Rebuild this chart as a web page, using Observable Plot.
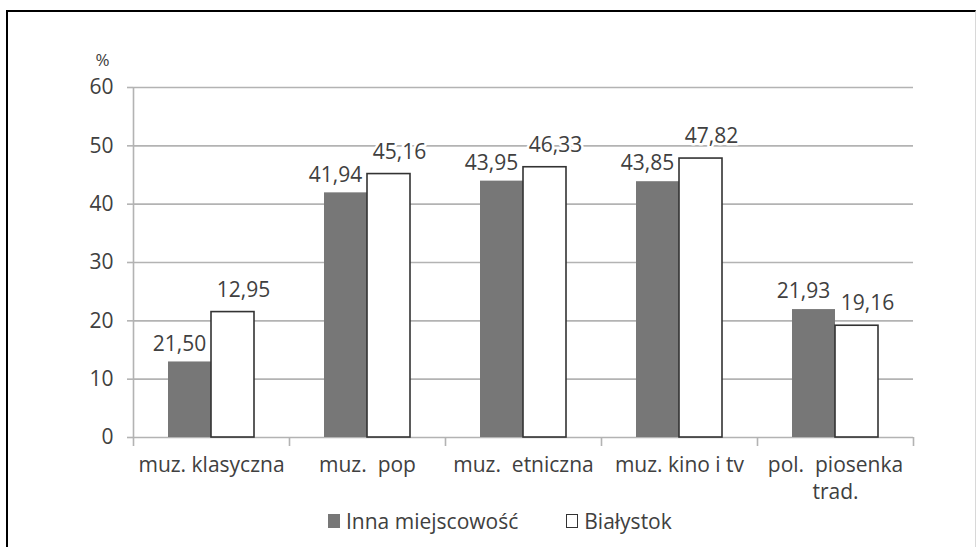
<!DOCTYPE html>
<html><head><meta charset="utf-8">
<script src="https://cdn.jsdelivr.net/npm/d3@7"></script>
<script src="https://cdn.jsdelivr.net/npm/@observablehq/plot@0.6"></script>
<style>
html,body{margin:0;padding:0;background:#fff;}
body{font-family:"Open Sans",sans-serif;color:#404040;width:976px;height:547px;overflow:hidden;position:relative;}
#frame{position:absolute;left:6px;top:10px;width:967px;height:600px;border-left:2.5px solid #000;border-top:2.5px solid #000;border-right:1px solid #d8d8d8;pointer-events:none;}
svg text{white-space:pre;}
#legend{display:flex;align-items:center;margin-top:2px;margin-left:328px;height:30px;font-size:21px;line-height:30px;color:#404040;}
#legend .sw{display:inline-block;width:12px;height:14px;margin-right:6px;box-sizing:border-box;}
#legend .item{display:flex;align-items:center;margin-right:48px;}
</style></head><body>
<div id="chart"></div>
<div id="legend"></div>
<div id="frame"></div>
<script>
const categories = ["muz. klasyczna", "muz.  pop", "muz.  etniczna", "muz. kino i tv", "pol.  piosenka\ntrad."];
const seriesNames = ["Inna miejscowość", "Białystok"];
const innaValues = [12.95, 41.94, 43.95, 43.85, 21.93];
const bialystokValues = [21.50, 45.16, 46.33, 47.82, 19.16];
const innaLabels = ["21,50", "41,94", "43,95", "43,85", "21,93"];
const bialystokLabels = ["12,95", "45,16", "46,33", "47,82", "19,16"];
const yTicks = [0, 10, 20, 30, 40, 50, 60];
const seriesColors = ["#777777", "#ffffff"];

const inna = categories.map((c, i) => ({cat: c, series: seriesNames[0], value: innaValues[i], label: innaLabels[i]}));
const bial = categories.map((c, i) => ({cat: c, series: seriesNames[1], value: bialystokValues[i], label: bialystokLabels[i]}));

const gridColor = "#b3b3b3";
const textColor = "#404040";

const chart = Plot.plot({
  width: 976,
  height: 504,
  marginLeft: 133,
  marginRight: 63,
  marginTop: 87,
  marginBottom: 67,
  style: {fontFamily: "'Open Sans', sans-serif", fontSize: "21px", color: textColor, background: "#fff"},
  x: {domain: categories, padding: 0, label: null},
  y: {domain: [0, 60], label: null},
  marks: [
    Plot.ruleY(yTicks, {stroke: gridColor, strokeWidth: 1.6}),
    Plot.ruleX([categories[0]], {x: d => d, dx: -78, stroke: gridColor, strokeWidth: 1.6}),
    Plot.axisY(yTicks, {tickSize: 6, tickPadding: 14, stroke: gridColor, strokeWidth: 1.6, fill: textColor, label: null, fontSize: 21}),
    Plot.axisX({tickSize: 9, fill: "none", dx: -78, stroke: gridColor, strokeWidth: 1.6, label: null}),
    Plot.axisX([categories[categories.length - 1]], {tickSize: 9, fill: "none", dx: 78, stroke: gridColor, strokeWidth: 1.6, label: null}),
    Plot.axisX({tickSize: 0, tickPadding: 15, fill: textColor, label: null, lineHeight: 1.29, fontSize: 21}),
    Plot.barY(inna, {x: "cat", y: "value", fill: seriesColors[0], insetLeft: 35, insetRight: 78}),
    Plot.barY(bial, {x: "cat", y: "value", fill: seriesColors[1], stroke: "#333", strokeWidth: 1.6, insetLeft: 78, insetRight: 35}),
    Plot.text(inna, {x: "cat", y: "value", text: "label", dx: -32, dy: -18, fill: textColor, fontSize: 21, stroke: "#fff", strokeWidth: 5, paintOrder: "stroke"}),
    Plot.text(bial, {x: "cat", y: "value", text: "label", dx: 32, dy: -22, fill: textColor, fontSize: 21, stroke: "#fff", strokeWidth: 5, paintOrder: "stroke"}),
    Plot.text(["%"], {frameAnchor: "top-left", text: d => d, textAnchor: "middle", lineAnchor: "middle", dx: -31, dy: -27, fill: textColor, fontSize: 17})
  ]
});
document.getElementById("chart").appendChild(chart);

const legend = document.getElementById("legend");
seriesNames.forEach((name, i) => {
  const item = document.createElement("span");
  item.className = "item";
  const sw = document.createElement("span");
  sw.className = "sw";
  sw.style.background = seriesColors[i];
  if (i === 1) sw.style.border = "1.5px solid #333";
  item.appendChild(sw);
  const t = document.createElement("span");
  t.textContent = name;
  item.appendChild(t);
  legend.appendChild(item);
});
</script>
</body></html>
